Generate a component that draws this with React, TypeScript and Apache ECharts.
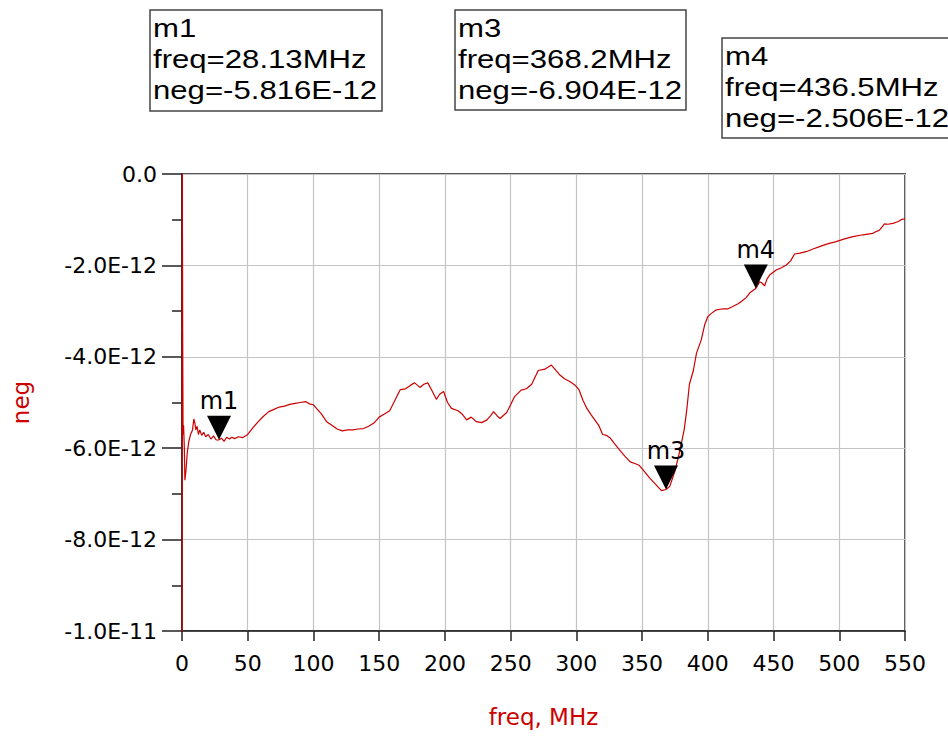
import React, { useEffect, useRef } from "react";
import * as echarts from "echarts";

// ---- data ----
const freqMHz = [
  0, 0.2, 0.5, 0.8, 1.2, 1.8, 2.2, 3.0, 4.0, 5.2, 6.5, 8.0, 9.0, 9.8, 10.5, 11.5, 12.5, 13.5, 15, 16.5,
  18, 20, 22, 24, 26, 28.13, 30, 32, 34, 36, 38, 40, 43, 46, 50, 54, 58, 62, 66, 70,
  74, 78, 82, 86, 90, 94, 97, 100, 103, 106, 110, 114, 118, 122, 126, 130, 134, 138, 142, 146,
  150, 154, 158, 162, 166, 170, 174, 177, 181, 184, 187, 190, 193.5, 196, 199, 202, 205, 210, 213, 216.5,
  220, 224, 228, 232, 235, 237, 240, 242, 247, 250, 253, 258, 262, 266, 271, 276, 281, 284, 287.5, 291,
  295, 299, 302, 305, 308, 311, 314, 317, 320, 323, 325.5, 329, 333, 337, 341, 345, 348, 352, 356, 360,
  364.7, 368.2, 371, 375, 378.8, 382, 384, 386, 389, 391.4, 395, 397.6, 400, 402.7, 406, 409, 412, 415.4, 419, 423,
  426, 429.3, 432, 436.5, 439.4, 441, 443.2, 445, 447, 452, 456, 459.7, 463, 466, 470, 474.8, 480, 485, 491, 497.6,
  504, 510.3, 518, 525.5, 528, 530.6, 534.4, 537, 540.8, 545, 547, 550,
];
// values in units of 1E-12
const negE12 = [
  -12, 0.5, -3.4, -5.7, -5.5, -6.0, -6.7, -6.5, -6.1, -5.85, -5.7, -5.6, -5.36, -5.45, -5.6, -5.52, -5.7, -5.6, -5.72, -5.65,
  -5.75, -5.7, -5.8, -5.73, -5.82, -5.816, -5.78, -5.85, -5.76, -5.8, -5.76, -5.79, -5.75, -5.77, -5.7, -5.55, -5.42, -5.3, -5.2, -5.15,
  -5.1, -5.08, -5.04, -5.02, -5.0, -4.98, -5.03, -5.05, -5.15, -5.25, -5.42, -5.5, -5.58, -5.62, -5.6, -5.6, -5.58, -5.57, -5.52, -5.45,
  -5.32, -5.25, -5.18, -4.95, -4.72, -4.7, -4.62, -4.57, -4.67, -4.6, -4.57, -4.73, -4.93, -4.82, -4.76, -5.0, -5.13, -5.18, -5.25, -5.38,
  -5.32, -5.42, -5.44, -5.38, -5.28, -5.2, -5.3, -5.35, -5.22, -5.05, -4.87, -4.73, -4.7, -4.6, -4.3, -4.27, -4.18, -4.28, -4.4, -4.48,
  -4.54, -4.62, -4.72, -4.95, -5.13, -5.26, -5.38, -5.5, -5.7, -5.72, -5.77, -5.9, -6.04, -6.18, -6.3, -6.34, -6.38, -6.52, -6.66, -6.78,
  -6.93, -6.904, -6.84, -6.5, -6.04, -5.6, -5.16, -4.6, -4.3, -3.92, -3.63, -3.3, -3.12, -3.05, -2.98, -2.96, -2.95, -2.95, -2.9, -2.84,
  -2.78, -2.7, -2.6, -2.506, -2.36, -2.38, -2.45, -2.3, -2.21, -2.1, -2.05, -1.99, -1.9, -1.75, -1.73, -1.7, -1.64, -1.59, -1.53, -1.48,
  -1.42, -1.37, -1.33, -1.3, -1.26, -1.23, -1.09, -1.1, -1.08, -1.04, -1.0, -0.98,
];

const markerNames = ["m1", "m3", "m4"];
const markerFreq = ["28.13", "368.2", "436.5"];
const markerNeg = [-5.816, -6.904, -2.506];

const yTickValues = [0, -2, -4, -6, -8, -10];
const yTickLabels = ["0.0", "-2.0E-12", "-4.0E-12", "-6.0E-12", "-8.0E-12", "-1.0E-11"];

// ---- layout for the readout boxes ----
const boxLayout = [
  { x: 150, y: 10, w: 232, h: 101 },
  { x: 455, y: 10, w: 231, h: 100 },
  { x: 722, y: 38, w: 240, h: 100 },
];

const RED = "#cc0000";
const AXIS_FONT = "DejaVu Sans";

export default function App() {
  const ref = useRef<HTMLDivElement>(null);

  useEffect(() => {
    if (!ref.current) return;
    const chart = echarts.init(ref.current, undefined, { renderer: "svg" });

    const boxes = markerNames.map((name, i) => {
      const b = boxLayout[i];
      const txt = `${name}\nfreq=${markerFreq[i]}MHz\nneg=${markerNeg[i].toFixed(3)}E-12`;
      return {
        type: "group",
        children: [
          {
            type: "rect",
            shape: { x: b.x, y: b.y, width: b.w, height: b.h },
            style: { fill: "#fff", stroke: "#444", lineWidth: 1.5 },
          },
          {
            type: "text",
            x: b.x + 3,
            y: b.y + 3,
            scaleX: 1.245,
            style: {
              text: txt,
              font: '25px "Liberation Sans", Arial, sans-serif',
              lineHeight: 31,
              fill: "#000",
              textVerticalAlign: "top",
              textAlign: "left",
            },
          },
        ],
      };
    });

    chart.setOption({
      animation: false,
      backgroundColor: "#fff",
      grid: {
        left: 182,
        top: 174,
        width: 723,
        height: 457,
        show: true,
        borderColor: "#555",
        borderWidth: 2,
        backgroundColor: "transparent",
      },
      xAxis: {
        type: "value",
        min: 0,
        max: 550,
        interval: 50,
        name: "freq, MHz",
        nameLocation: "middle",
        nameGap: 74,
        nameTextStyle: { color: RED, fontFamily: AXIS_FONT, fontSize: 23 },
        axisLine: { show: true, onZero: false, lineStyle: { color: "#222", width: 1.5 } },
        axisTick: { show: true, length: 10, lineStyle: { color: "#222", width: 1.5 } },
        axisLabel: { color: "#000", fontFamily: AXIS_FONT, fontSize: 22, margin: 21 },
        splitLine: { show: true, lineStyle: { color: "#c4c4c4", width: 1.2 } },
      },
      yAxis: {
        type: "value",
        min: -10,
        max: 0,
        interval: 2,
        name: "neg",
        nameLocation: "middle",
        nameRotate: 90,
        nameGap: 150,
        nameTextStyle: { color: RED, fontFamily: AXIS_FONT, fontSize: 23 },
        axisLine: { show: true, onZero: false, lineStyle: { color: "#222", width: 1.5 } },
        axisTick: { show: true, length: 20, lineStyle: { color: "#222", width: 1.5 } },
        minorTick: { show: true, splitNumber: 2, length: 10, lineStyle: { color: "#222", width: 1.5 } },
        axisLabel: {
          color: "#000",
          fontFamily: AXIS_FONT,
          fontSize: 22,
          margin: 25,
          formatter: (v: number) => {
            const idx = yTickValues.indexOf(Math.round(v));
            return idx >= 0 ? yTickLabels[idx] : "";
          },
        },
        splitLine: { show: true, lineStyle: { color: "#c4c4c4", width: 1.2 } },
      },
      series: [
        {
          type: "line",
          data: freqMHz.map((f, i) => [f, negE12[i]]),
          showSymbol: false,
          symbol: "none",
          clip: true,
          lineStyle: { color: RED, width: 1.2 },
          z: 3,
        },
        {
          type: "scatter",
          data: markerNames.map((n, i) => ({ name: n, value: [parseFloat(markerFreq[i]), markerNeg[i]] })),
          symbol: "path://M0,0L24,0L12,24Z",
          symbolSize: [24, 24],
          symbolOffset: [0, -12],
          itemStyle: { color: "#000", opacity: 1 },
          label: {
            show: true,
            position: "top",
            distance: 3,
            formatter: "{b}",
            color: "#000",
            fontFamily: AXIS_FONT,
            fontSize: 24,
          },
          emphasis: { disabled: true },
          z: 5,
        },
      ],
      graphic: boxes,
    });

    return () => chart.dispose();
  }, []);

  return (
    <div
      ref={ref}
      style={{ position: "fixed", left: 0, top: 0, width: 948, height: 736, background: "#fff" }}
    />
  );
}
